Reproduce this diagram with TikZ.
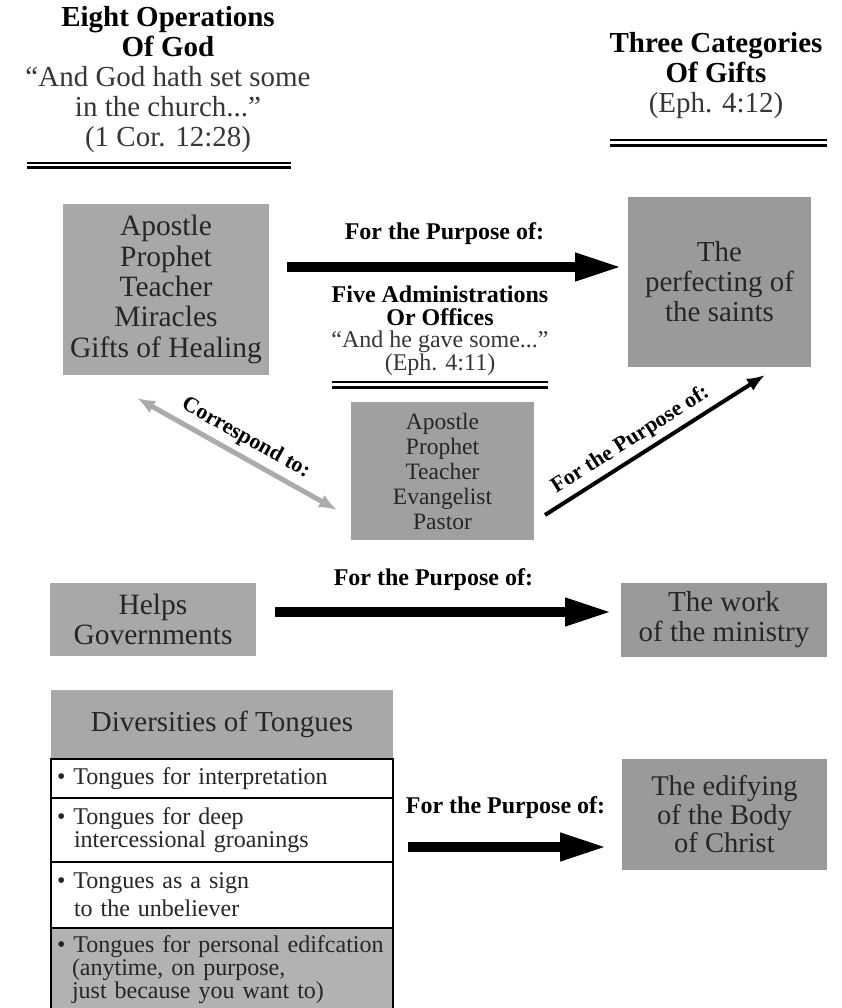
\documentclass[tikz,border=0pt]{standalone}
\usepackage{fontspec}
\setmainfont{Liberation Serif}
\usetikzlibrary{arrows.meta,positioning}

\definecolor{opgray}{HTML}{A8A8A8}
\definecolor{giftgray}{HTML}{9A9A9A}
\definecolor{officegray}{HTML}{A0A0A0}
\definecolor{rowgray}{HTML}{B2B2B2}
\definecolor{ink}{HTML}{262626}
\definecolor{quoteink}{HTML}{363636}
\definecolor{linkgray}{HTML}{ABABAB}

\tikzset{
  opbox/.style={fill=opgray, text=ink, align=center, font=\fontsize{29.5}{30.3}\selectfont},
  giftbox/.style={fill=giftgray, text=ink, align=center, font=\fontsize{29}{30}\selectfont},
  heading/.style={align=center, font=\fontsize{29}{30}\selectfont},
  purpose/.style={font=\bfseries\fontsize{24}{24}\selectfont},
  slopelabel/.style={font=\bfseries\fontsize{22}{22}\selectfont, sloped},
  bigarrow/.style={line width=10pt, -{Triangle[length=47pt,width=26pt]}},
  thinarrow/.style={line width=4pt, -{Latex[length=18pt,width=14pt]}},
  rowbox/.style={draw, line width=2.2pt, fill=white, text width=330pt, align=left,
    inner xsep=6pt, text=ink, font=\fontsize{24}{23}\selectfont},
}

\begin{document}
\begin{tikzpicture}[x=1pt, y=-1pt, every node/.style={inner sep=0pt, outer sep=0pt}]
  \useasboundingbox (0,0) rectangle (842,1008);

  % column headings
  \node[heading] (opshead) at (168,80) {\textbf{Eight Operations}\\\textbf{Of God}\\
    \textcolor{quoteink}{“And God hath set some}\\\textcolor{quoteink}{in the church...”}\\
    \textcolor{quoteink}{(1 Cor. 12:28)}};
  \draw[line width=1.3pt] (27,163) -- (291,163);
  \draw[line width=3pt] (27,168) -- (291,168);

  \node[heading] (giftshead) at (716,76) {\textbf{Three Categories}\\\textbf{Of Gifts}\\
    \textcolor{quoteink}{(Eph. 4:12)}};
  \draw[line width=1.3pt] (610,140) -- (827,140);
  \draw[line width=3pt] (610,146) -- (827,146);

  % first row
  \node[opbox, minimum width=206pt, minimum height=171pt] (ops) at (166,289.5)
    {Apostle\\Prophet\\Teacher\\Miracles\\Gifts of Healing};
  \node[giftbox, minimum width=183pt, minimum height=170pt] (perfecting) at (719.5,282)
    {The\\perfecting of\\the saints};

  \node[align=center, font=\fontsize{24}{22.5}\selectfont] (adminhead) at (440,330.5)
    {\textbf{Five Administrations}\\\textbf{Or Offices}\\
     \textcolor{quoteink}{“And he gave some...”}\\\textcolor{quoteink}{(Eph. 4:11)}};
  \draw[line width=1.3pt] (332,382) -- (548,382);
  \draw[line width=3pt] (332,387) -- (548,387);

  \node[fill=officegray, text=ink, align=center, font=\fontsize{23.5}{25}\selectfont,
    minimum width=183pt, minimum height=138pt] (offices) at (442.5,471)
    {Apostle\\Prophet\\Teacher\\Evangelist\\Pastor};

  \draw[bigarrow] ([shift={(18pt,22.5pt)}]ops.east) -- ([shift={(-6pt,15pt)}]perfecting.west)
    node[purpose, pos=0.47, above=22pt] {For the Purpose of:};
  \draw[line width=5pt, linkgray, {Latex[length=18pt,width=14pt]}-{Latex[length=18pt,width=14pt]}]
    ([shift={(-29pt,-23pt)}]ops.south) -- ([shift={(-14pt,-39pt)}]offices.west)
    node[slopelabel, midway, above=8pt, text=black] {Correspond to:};
  \draw[thinarrow] ([shift={(11pt,-44pt)}]offices.east) -- ([shift={(45.5pt,-8pt)}]perfecting.south)
    node[slopelabel, pos=0.43, above=7pt] {For the Purpose of:};

  % second row
  \node[opbox, minimum width=206pt, minimum height=73pt] (helps) at (153,619.5)
    {Helps\\Governments};
  \node[giftbox, minimum width=206pt, minimum height=74pt] (ministry) at (724,620)
    {The work\\of the ministry};
  \draw[bigarrow] ([shift={(19pt,7.5pt)}]helps.east) -- ([shift={(-9pt,8pt)}]ministry.west)
    node[purpose, pos=0.47, above=21pt] {For the Purpose of:};

  % third row
  \node[fill=opgray, text=ink, minimum width=342pt, minimum height=69pt,
    font=\fontsize{29}{30}\selectfont] (tongues) at (222,724.5) {Diversities of Tongues};
  \node[rowbox, minimum height=39pt, below=0pt of tongues] (interp)
    {\textbullet\ Tongues for interpretation};
  \node[rowbox, minimum height=64pt, below=0pt of interp] (groan)
    {\textbullet\ Tongues for deep\\\hspace*{17pt}intercessional groanings};
  \node[rowbox, minimum height=66pt, below=0pt of groan] (sign)
    {\textbullet\ Tongues as a sign\\[5pt]\hspace*{17pt}to the unbeliever};
  \node[rowbox, fill=rowgray, minimum height=84pt, below=0pt of sign] (personal)
    {\textbullet\ Tongues for personal edifcation\\\hspace*{15pt}(anytime, on purpose,\\
     \hspace*{15pt}just because you want to)};

  \node[giftbox, minimum width=205pt, minimum height=111pt, font=\fontsize{28.5}{28.5}\selectfont]
    (edifying) at (724.5,814.5) {The edifying\\of the Body\\of Christ};
  \draw[bigarrow] ([shift={(15pt,-17pt)}]groan.east) -- ([shift={(-15pt,-32.5pt)}]edifying.west)
    node[purpose, pos=0.49, above=28pt] {For the Purpose of:};
\end{tikzpicture}
\end{document}
